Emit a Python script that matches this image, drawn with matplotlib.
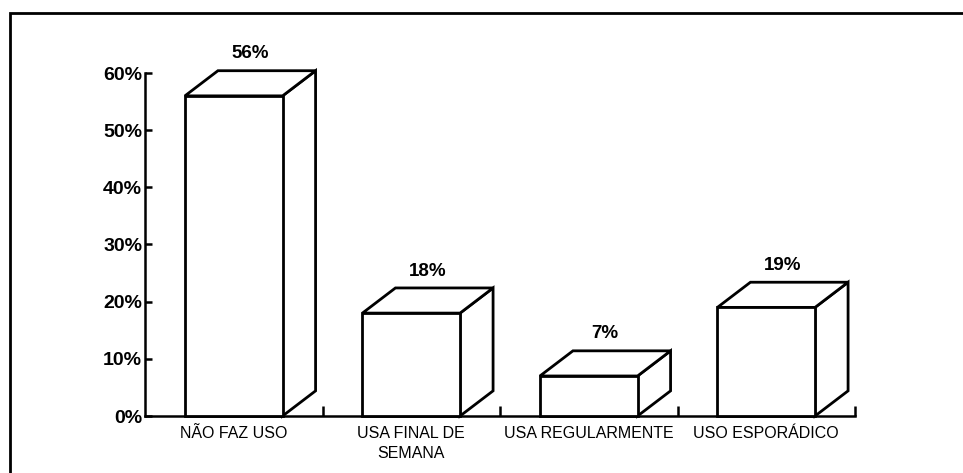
import matplotlib.pyplot as plt
from matplotlib.patches import Polygon, Rectangle

# Survey answers and their shares (%)
categories = ['NÃO FAZ USO', 'USA FINAL DE\nSEMANA', 'USA REGULARMENTE', 'USO ESPORÁDICO']
values = [56, 18, 7, 19]
yticks = [0, 10, 20, 30, 40, 50, 60]

plt.rcParams['font.family'] = ['Liberation Sans', 'DejaVu Sans']

fig = plt.figure(figsize=(9.63, 4.73), dpi=100)
ax = fig.add_axes([145 / 963, 57 / 473, 710 / 963, 343 / 473])

bar_w = 0.55     # front face width (category units)
depth_x = 0.186  # 3D depth offset, x (category units)
depth_y = 4.4    # 3D depth offset, y (percent units)
lw = 2.0

for i, h in enumerate(values):
    x0 = i - bar_w / 2
    x1 = i + bar_w / 2
    front = [(x0, 0), (x1, 0), (x1, h), (x0, h)]
    top = [(x0, h), (x0 + depth_x, h + depth_y), (x1 + depth_x, h + depth_y), (x1, h)]
    side = [(x1, 0), (x1 + depth_x, depth_y), (x1 + depth_x, h + depth_y), (x1, h)]
    for pts in (side, top, front):
        ax.add_patch(Polygon(pts, closed=True, facecolor='white', edgecolor='black',
                             linewidth=lw, joinstyle='miter', clip_on=False, zorder=3))
    ax.annotate(f'{h}%', xy=(i + depth_x / 2, h + depth_y), xytext=(0, 6),
                textcoords='offset points', ha='center', va='bottom',
                fontsize=13.5, fontweight='bold', zorder=4, annotation_clip=False)

ax.set_xlim(-0.5, len(categories) - 0.5)
ax.set_ylim(0, 60)

ax.set_yticks(yticks)
ax.set_yticklabels([f'{t}%' for t in yticks], fontsize=14, fontweight='bold')
ax.tick_params(axis='y', direction='in', length=5, width=1.8, pad=2)

ax.set_xticks(range(len(categories)))
ax.set_xticklabels(categories, fontsize=11.5, linespacing=1.45)
ax.tick_params(axis='x', which='major', length=0, pad=7)
ax.set_xticks([0.5, 1.5, 2.5, 3.5], minor=True)
ax.tick_params(axis='x', which='minor', direction='in', length=7, width=1.8)

for side_name in ('top', 'right'):
    ax.spines[side_name].set_visible(False)
for side_name in ('left', 'bottom'):
    ax.spines[side_name].set_linewidth(1.8)

# frame around the figure (only top and left edges visible in the scan)
fig.add_artist(Rectangle((10 / 963, -0.1), 1.2, 1 - 13.5 / 473 + 0.1,
                         transform=fig.transFigure, fill=False,
                         edgecolor='black', linewidth=2))

fig.savefig('out.png', dpi=100)
